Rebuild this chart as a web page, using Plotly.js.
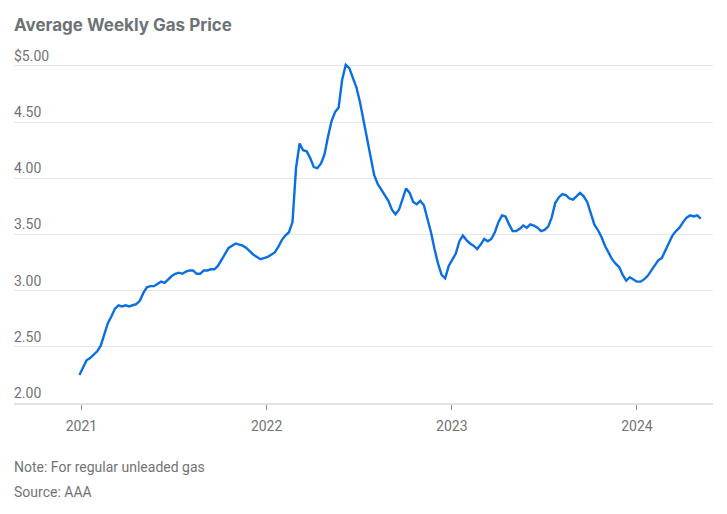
<!DOCTYPE html>
<html>
<head>
<meta charset="utf-8">
<script src="https://cdn.plot.ly/plotly-3.0.1.min.js"></script>
<style>
  html, body { margin: 0; padding: 0; background: #ffffff; }
  #chart { width: 727px; height: 514px; }
</style>
</head>
<body>
<div id="chart"></div>
<script>
// Weekly series start (Monday) and weekly average prices, $/gal
const firstWeek = '2020-12-28';
const prices = [
  2.25, 2.32, 2.38, 2.40, 2.43, 2.46, 2.51, 2.62, 2.71, 2.77,
  2.84, 2.87, 2.86, 2.87, 2.86, 2.87, 2.88, 2.91, 2.98, 3.03,
  3.04, 3.04, 3.06, 3.08, 3.07, 3.10, 3.13, 3.15, 3.16, 3.15,
  3.17, 3.18, 3.18, 3.15, 3.15, 3.18, 3.18, 3.19, 3.19, 3.22,
  3.27, 3.33, 3.38, 3.40, 3.42, 3.41, 3.40, 3.38, 3.35, 3.32,
  3.30, 3.28, 3.29, 3.30, 3.32, 3.34, 3.39, 3.45, 3.49, 3.52,
  3.61, 4.09, 4.31, 4.25, 4.24, 4.18, 4.10, 4.09, 4.13, 4.21,
  4.37, 4.51, 4.59, 4.63, 4.88, 5.01, 4.98, 4.90, 4.81, 4.68,
  4.52, 4.35, 4.19, 4.03, 3.95, 3.90, 3.85, 3.80, 3.72, 3.68,
  3.72, 3.81, 3.91, 3.87, 3.79, 3.77, 3.80, 3.76, 3.64, 3.52,
  3.37, 3.24, 3.14, 3.11, 3.22, 3.28, 3.33, 3.44, 3.49, 3.45,
  3.42, 3.40, 3.37, 3.41, 3.46, 3.44, 3.46, 3.52, 3.61, 3.67,
  3.66, 3.59, 3.53, 3.53, 3.55, 3.58, 3.56, 3.59, 3.58, 3.56,
  3.53, 3.54, 3.57, 3.65, 3.78, 3.83, 3.86, 3.85, 3.82, 3.81,
  3.84, 3.87, 3.84, 3.79, 3.69, 3.59, 3.54, 3.48, 3.40, 3.34,
  3.28, 3.24, 3.21, 3.14, 3.09, 3.12, 3.10, 3.08, 3.08, 3.10,
  3.13, 3.18, 3.23, 3.27, 3.29, 3.36, 3.42, 3.49, 3.53, 3.56,
  3.61, 3.65, 3.67, 3.66, 3.67, 3.64
];
const yTickVals = [2, 2.5, 3, 3.5, 4, 4.5, 5];
const yTickText = ['2.00', '2.50', '3.00', '3.50', '4.00', '4.50', '$5.00'];
const xTickVals = ['2021-01-01', '2022-01-01', '2023-01-01', '2024-01-01'];
const xTickText = ['2021', '2022', '2023', '2024'];
const titleText = 'Average Weekly Gas Price';
const noteText = 'Note: For regular unleaded gas';
const sourceText = 'Source: AAA';

// weekly dates for each price
const dates = [];
const d0 = new Date(firstWeek + 'T00:00:00Z');
for (let i = 0; i < prices.length; i++) {
  const d = new Date(d0.getTime() + i * 7 * 86400000);
  dates.push(d.toISOString().slice(0, 10));
}

const textColor = '#737373';
const font = 'Roboto, "Liberation Sans", Arial, sans-serif';

const trace = {
  x: dates,
  y: prices,
  type: 'scatter',
  mode: 'lines',
  line: { color: '#0a6fe0', width: 2.4 },
  hoverinfo: 'x+y'
};

// y tick labels sit above their gridlines, flush left
const yLabelAnnotations = yTickVals.map((v, i) => ({
  text: yTickText[i], xref: 'paper', yref: 'y', x: 0, y: v,
  xanchor: 'left', yanchor: 'middle', xshift: -2, yshift: 10, showarrow: false,
  font: { family: font, size: 14, color: textColor }
}));

const layout = {
  width: 727,
  height: 514,
  margin: { l: 14, r: 14, t: 60, b: 111, pad: 0 },
  paper_bgcolor: '#ffffff',
  plot_bgcolor: '#ffffff',
  showlegend: false,
  font: { family: font, size: 14, color: textColor },
  title: {
    text: titleText,
    font: { family: 'Inter, Roboto, sans-serif', size: 17, color: '#6b7375', weight: 'bold' },
    xref: 'container', yref: 'container',
    x: 14 / 727, xanchor: 'left',
    y: 1 - 25 / 514, yanchor: 'middle'
  },
  xaxis: {
    type: 'date',
    range: ['2020-08-21', '2024-05-30'],
    tickvals: xTickVals,
    ticktext: xTickText,
    showgrid: false,
    zeroline: false,
    showline: true,
    linecolor: '#e3e3e3',
    linewidth: 2,
    ticks: 'outside',
    ticklen: 5,
    tickwidth: 1,
    tickcolor: '#8a8a8a',
    ticklabelstandoff: 4,
    tickfont: { family: font, size: 14, color: textColor },
    fixedrange: true
  },
  yaxis: {
    range: [2, 5.053],
    tickvals: yTickVals,
    showgrid: true,
    gridcolor: '#e6e6e6',
    gridwidth: 1,
    zeroline: false,
    showline: false,
    ticks: '',
    showticklabels: false,
    fixedrange: true
  },
  annotations: yLabelAnnotations.concat([
    {
      text: noteText, xref: 'paper', yref: 'paper', x: 0, y: 0,
      xanchor: 'left', yanchor: 'middle', xshift: -2, yshift: -64, showarrow: false,
      font: { family: font, size: 14, color: textColor }
    },
    {
      text: sourceText, xref: 'paper', yref: 'paper', x: 0, y: 0,
      xanchor: 'left', yanchor: 'middle', xshift: -2, yshift: -89, showarrow: false,
      font: { family: font, size: 14, color: textColor }
    }
  ])
};

Plotly.newPlot('chart', [trace], layout, { displayModeBar: false, staticPlot: true });
</script>
</body>
</html>
